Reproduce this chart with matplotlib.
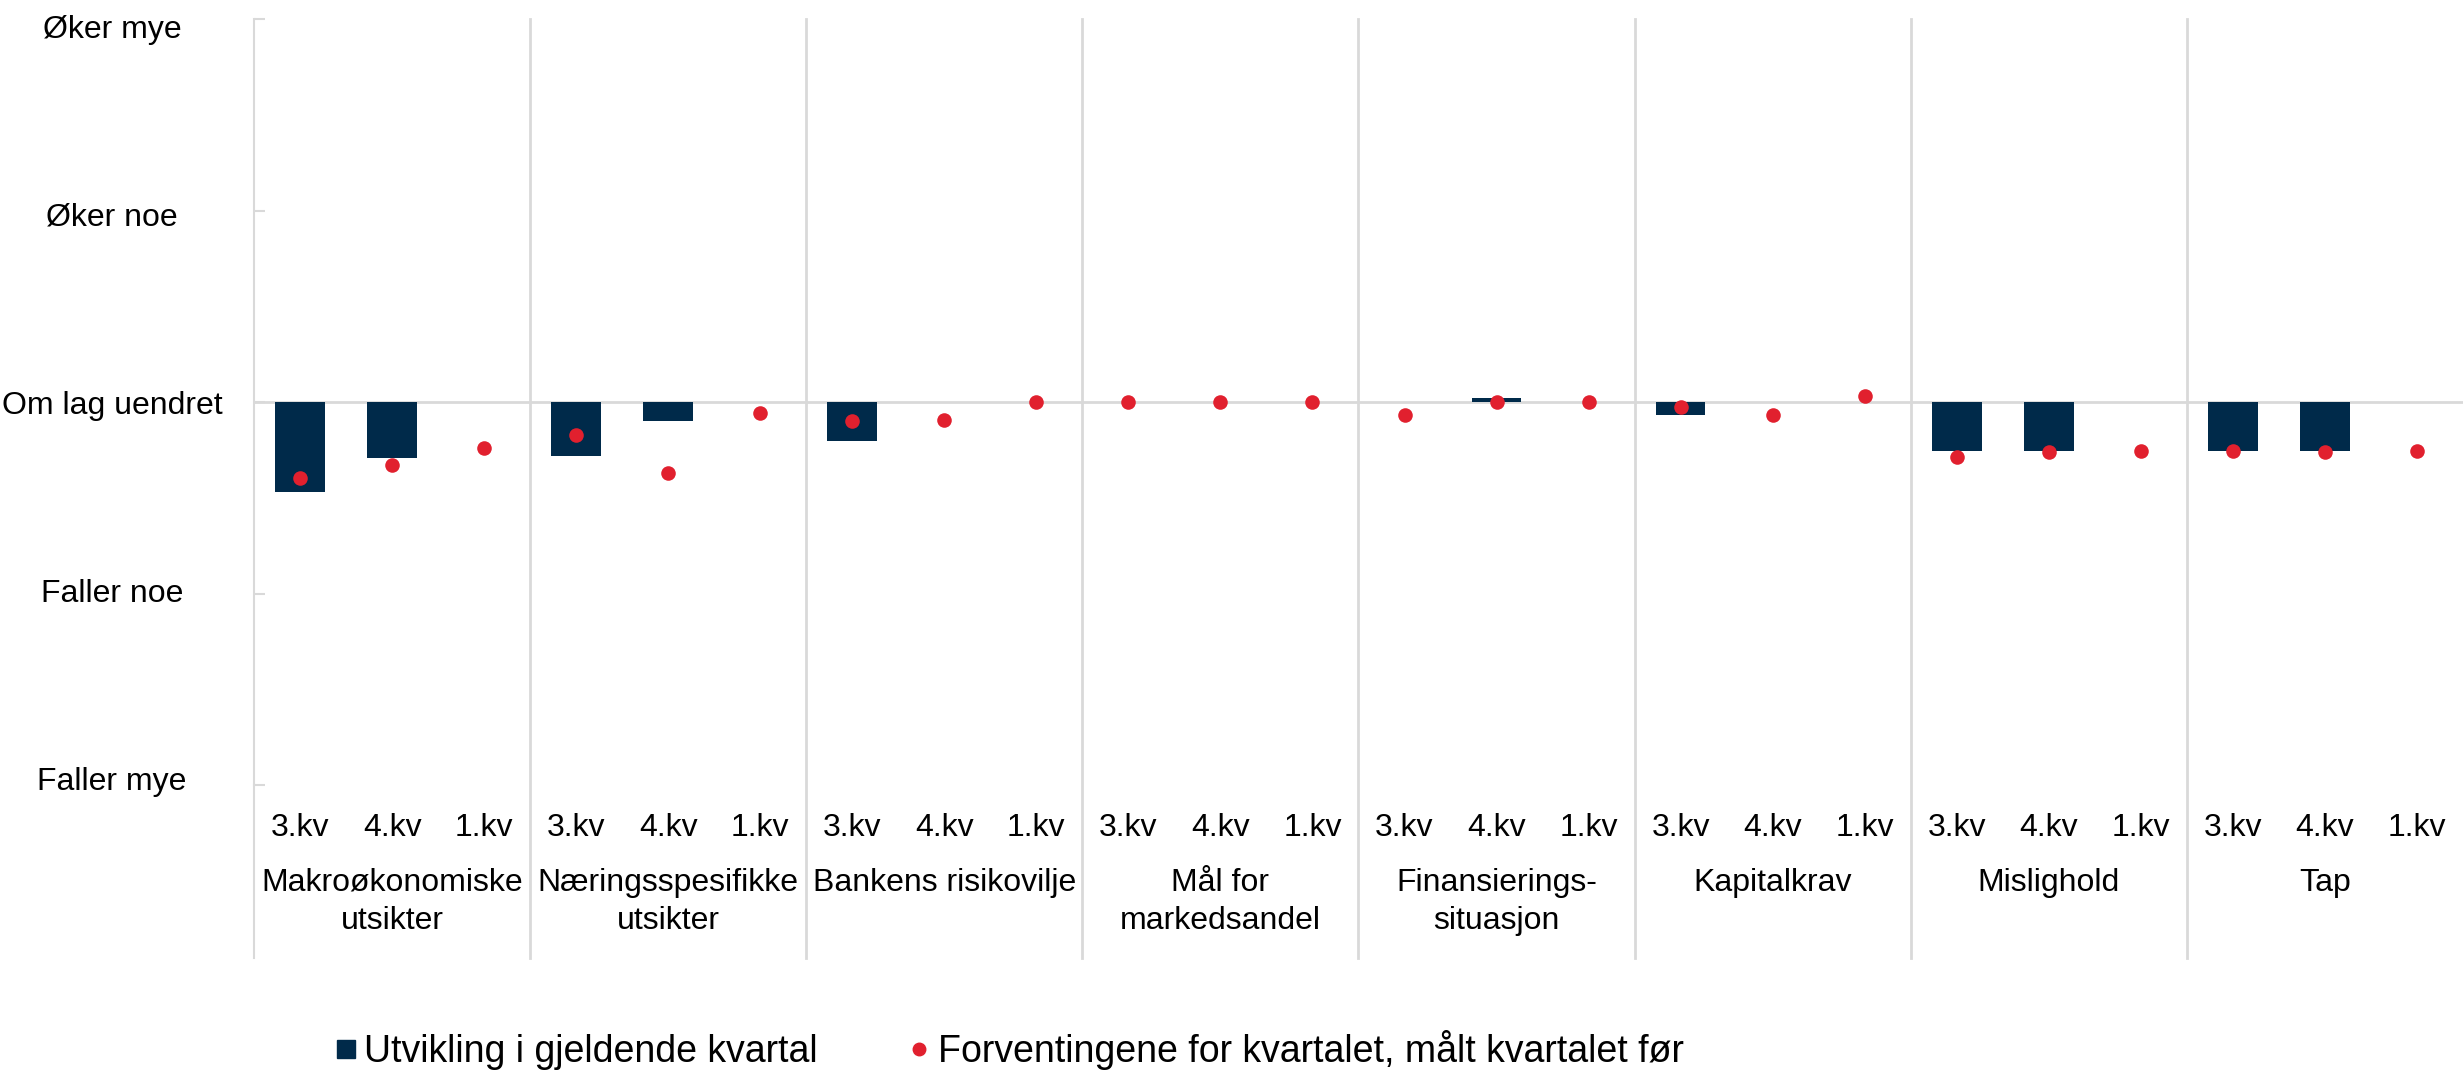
import matplotlib
matplotlib.use("Agg")
import matplotlib.pyplot as plt
import numpy as np
from matplotlib.lines import Line2D

plt.rcParams['font.family'] = ['Liberation Sans', 'DejaVu Sans']

categories = ["Makroøkonomiske\nutsikter", "Næringsspesifikke\nutsikter", "Bankens risikovilje",
              "Mål for\nmarkedsandel", "Finansierings-\nsituasjon", "Kapitalkrav", "Mislighold", "Tap"]
quarters = ["3.kv", "4.kv", "1.kv"]
y_tick_values = [-2, -1, 0, 1, 2]
y_tick_labels = ["Faller mye", "Faller noe", "Om lag uendret", "Øker noe", "Øker mye"]

utvikling = [
    [-0.47, -0.29, np.nan],
    [-0.28, -0.10, np.nan],
    [-0.205, 0.0, np.nan],
    [0.0, 0.0, np.nan],
    [0.0, 0.02, np.nan],
    [-0.07, 0.0, np.nan],
    [-0.255, -0.255, np.nan],
    [-0.255, -0.255, np.nan],
]
forventninger = [
    [-0.395, -0.33, -0.24],
    [-0.17, -0.37, -0.056],
    [-0.10, -0.096, 0.0],
    [0.0, 0.0, 0.0],
    [-0.07, 0.0, 0.0],
    [-0.026, -0.07, 0.03],
    [-0.285, -0.26, -0.254],
    [-0.254, -0.26, -0.254],
]

navy = '#002A4A'
red = '#E1202E'
gray = '#D9D9D9'

W, H = 2463, 1077
fig = plt.figure(figsize=(W / 100, H / 100), dpi=100)
left, right, top, bottom = 254, 2463, 19, 785
ax = fig.add_axes([left / W, 1 - bottom / H, (right - left) / W, (bottom - top) / H])

nq = len(quarters)
x = np.arange(len(categories) * nq)
bars = np.array(utvikling).ravel()
dots = np.array(forventninger).ravel()

ax.bar(x, bars, width=0.54, color=navy, zorder=2)
ax.scatter(x, dots, s=110, color=red, zorder=3, linewidths=0)

ax.axhline(0, color=gray, lw=2, zorder=1)
ax.set_xlim(-0.5, len(x) - 0.5)
ax.set_ylim(-2, 2)

for s in ['top', 'right', 'bottom']:
    ax.spines[s].set_visible(False)
ax.spines['left'].set_color(gray)
ax.spines['left'].set_linewidth(1.5)

ax.set_yticks(y_tick_values)
ax.set_yticklabels([])
ax.tick_params(axis='y', direction='in', length=8, color=gray, width=1.5)
for v, lab in zip(y_tick_values, y_tick_labels):
    ypix = 406 - v * 188
    fig.text(112 / W, 1 - ypix / H, lab, ha='center', va='center',
             fontsize=23, color='#000000')

ax.set_xticks(x)
ax.set_xticklabels(quarters * len(categories), fontsize=23)
ax.tick_params(axis='x', length=0, pad=20)

tr = ax.get_xaxis_transform()
for i, cat in enumerate(categories):
    cx = i * nq + 1
    ax.text(cx, -0.108, cat, transform=tr, ha='center', va='top', fontsize=23,
            linespacing=1.35)
    if i > 0:
        ax.plot([i * nq - 0.5] * 2, [-0.226, 1.0], transform=tr, color=gray,
                lw=2, clip_on=False, zorder=0)
ax.plot([-0.5, -0.5], [-0.226, 0.0], transform=tr, color=gray, lw=1.5,
        clip_on=False, zorder=0)

handles = [
    Line2D([], [], marker='s', linestyle='none', color=navy, markersize=13),
    Line2D([], [], marker='o', linestyle='none', color=red, markersize=9),
]
fig.legend(handles, ["Utvikling i gjeldende kvartal", "Forventingene for kvartalet, målt kvartalet før"],
           loc='center', bbox_to_anchor=(0.409, 1 - 1050 / H), ncol=2, frameon=False,
           fontsize=27, handletextpad=0.1, columnspacing=2.3, handlelength=0.8)

fig.savefig("out.png", dpi=100)
